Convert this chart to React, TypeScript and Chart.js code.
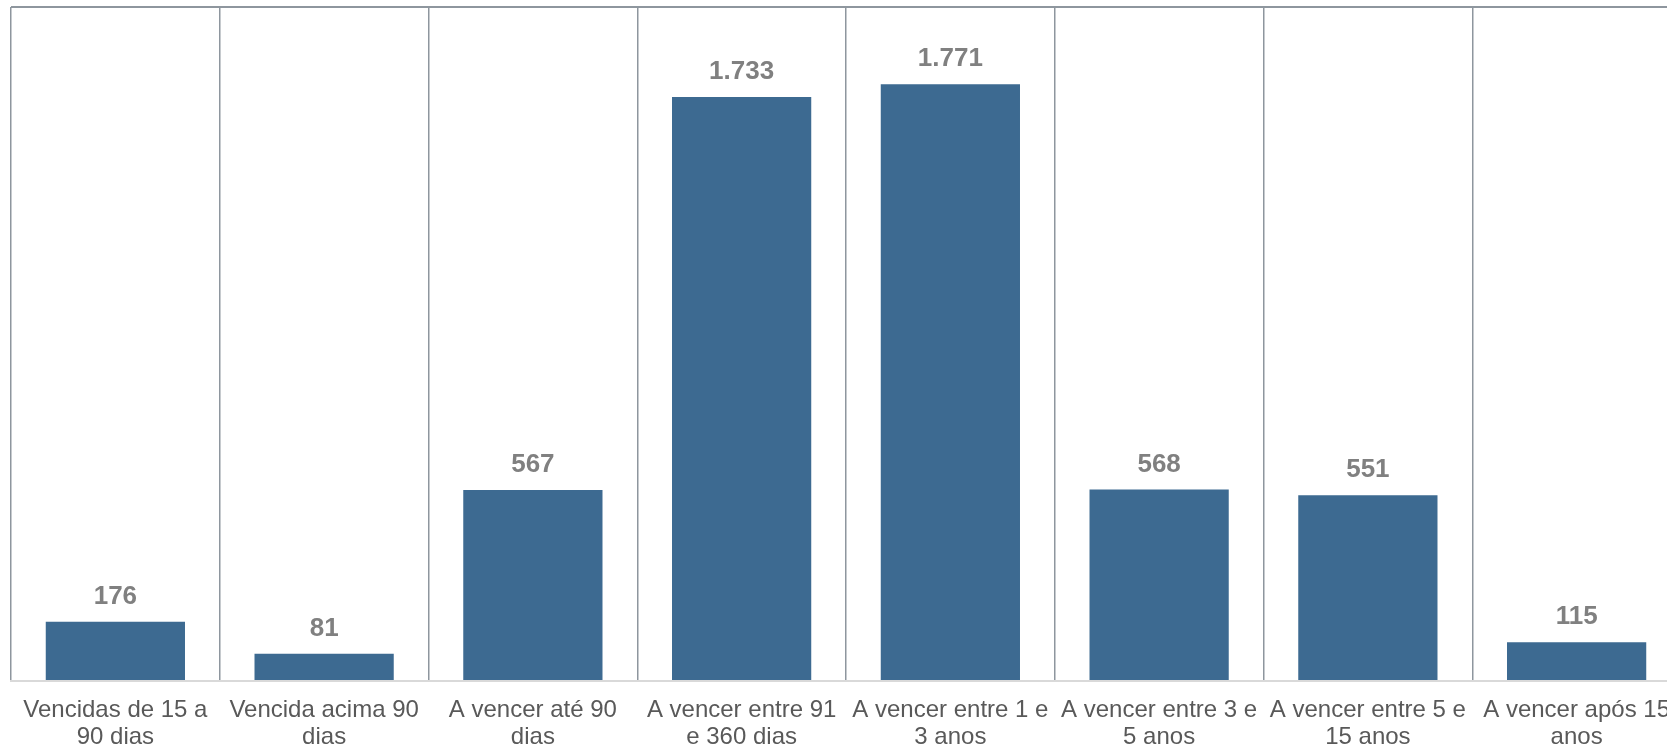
import React, { useEffect, useRef } from "react";
import { Chart, registerables, type Plugin } from "chart.js";

Chart.register(...registerables);

const categories: string[][] = [
  ["Vencidas de 15 a", "90 dias"],
  ["Vencida acima 90", "dias"],
  ["A vencer até 90", "dias"],
  ["A vencer entre 91", "e 360 dias"],
  ["A vencer entre 1 e", "3 anos"],
  ["A vencer entre 3 e", "5 anos"],
  ["A vencer entre 5 e", "15 anos"],
  ["A vencer após 15", "anos"],
];
const values: number[] = [176, 81, 567, 1733, 1771, 568, 551, 115];
const yMax = 2000;

const BAR = "#3D6A91";
const GRID = "#8E969E";
const FONT = "'Liberation Sans', Arial, sans-serif";

// thousands separator as in the source ("1.733")
const fmt = (v: number) => String(v).replace(/\B(?=(\d{3})+(?!\d))/g, ".");

const valueLabels: Plugin<"bar"> = {
  id: "valueLabels",
  afterDatasetsDraw(chart) {
    const ctx = chart.ctx;
    const meta = chart.getDatasetMeta(0);
    ctx.save();
    ctx.font = `bold 26px ${FONT}`;
    ctx.fillStyle = "#808080";
    ctx.textAlign = "center";
    ctx.textBaseline = "alphabetic";
    meta.data.forEach((bar, i) => {
      ctx.fillText(fmt(values[i]), bar.x, bar.y - 18);
    });
    ctx.restore();
  },
};

const App: React.FC = () => {
  const canvasRef = useRef<HTMLCanvasElement>(null);
  const chartRef = useRef<Chart | null>(null);

  useEffect(() => {
    if (!canvasRef.current) return;
    if (chartRef.current) chartRef.current.destroy();

    chartRef.current = new Chart(canvasRef.current, {
      type: "bar",
      data: {
        labels: categories,
        datasets: [
          {
            data: values,
            backgroundColor: BAR,
            barPercentage: 0.667,
            categoryPercentage: 1,
          },
        ],
      },
      options: {
        animation: false,
        responsive: true,
        maintainAspectRatio: false,
        layout: { padding: { left: 11, right: 19, top: 7, bottom: 0 } },
        plugins: {
          legend: { display: false },
          tooltip: { enabled: false },
        },
        scales: {
          x: {
            grid: { color: GRID, lineWidth: 1.5, drawTicks: false, offset: true },
            border: { display: true, color: "#D9D9D9", width: 2 },
            ticks: {
              color: "#595959",
              font: { family: FONT, size: 24, lineHeight: 1.12 },
              padding: 16,
              maxRotation: 0,
              autoSkip: false,
            },
            afterFit: (scale) => {
              scale.height = 66;
            },
          },
          y: {
            min: 0,
            max: yMax,
            ticks: { display: false, stepSize: 500 },
            grid: {
              drawTicks: false,
              lineWidth: 2,
              color: (c) => (c.tick && c.tick.value === yMax ? GRID : "transparent"),
            },
            border: { display: false },
            afterFit: (scale) => {
              scale.width = 0;
            },
          },
        },
      },
      plugins: [valueLabels],
    });

    return () => {
      if (chartRef.current) {
        chartRef.current.destroy();
        chartRef.current = null;
      }
    };
  }, []);

  return (
    <div
      style={{
        position: "fixed",
        left: 0,
        top: 0,
        width: 1667,
        height: 747,
        overflow: "hidden",
        background: "#fff",
      }}
    >
      <div style={{ position: "relative", width: 1700, height: 747 }}>
        <canvas ref={canvasRef} />
      </div>
    </div>
  );
};

export default App;
